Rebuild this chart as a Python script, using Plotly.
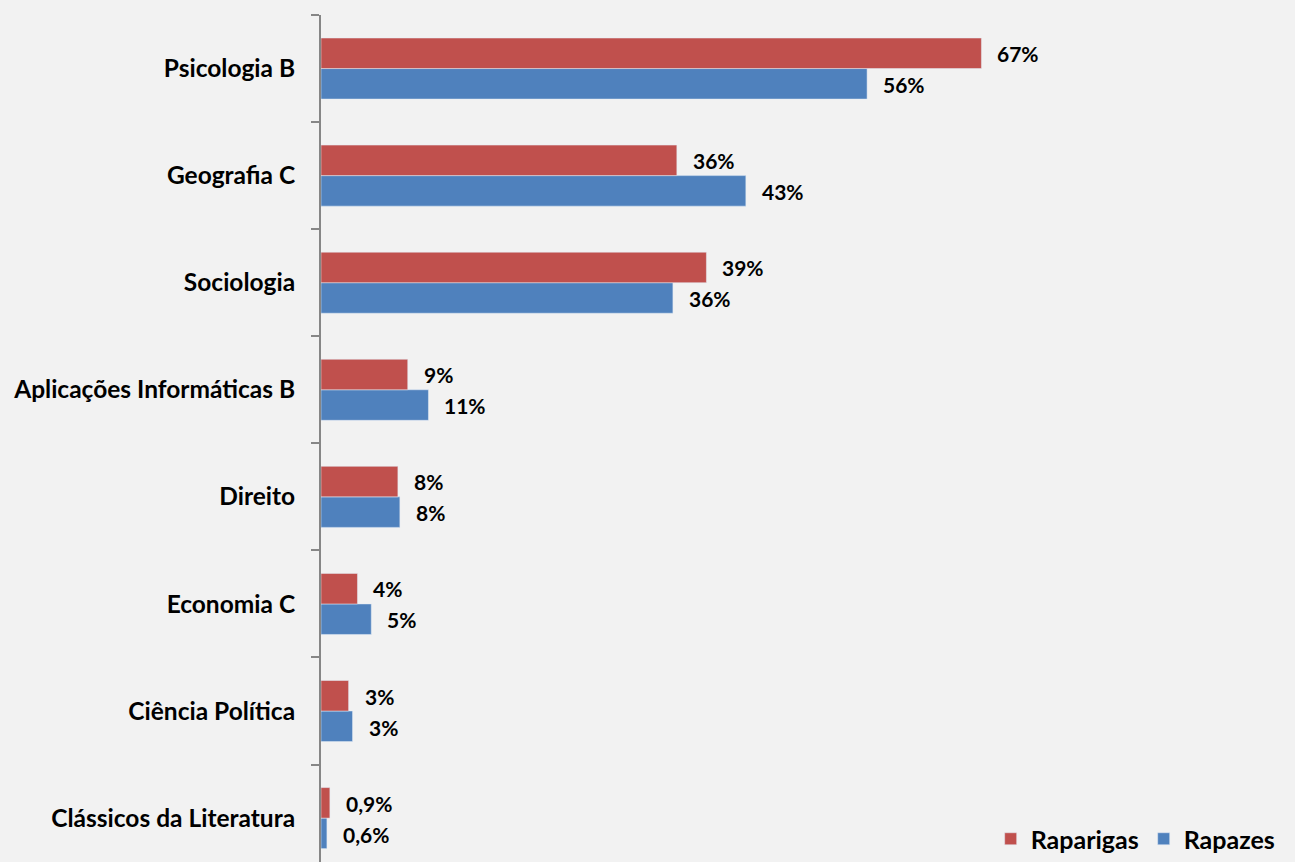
import plotly.graph_objects as go

# Categories listed bottom-to-top
categories = ["Clássicos da Literatura", "Ciência Política", "Economia C", "Direito",
              "Aplicações Informáticas B", "Sociologia", "Geografia C", "Psicologia B"]
raparigas = [0.9, 2.8, 3.7, 7.8, 8.8, 39.1, 36.1, 67.0]
rapazes = [0.6, 3.2, 5.1, 8.0, 10.9, 35.7, 43.1, 55.4]
raparigas_labels = ["0,9%", "3%", "4%", "8%", "9%", "39%", "36%", "67%"]
rapazes_labels = ["0,6%", "3%", "5%", "8%", "11%", "36%", "43%", "56%"]

RED = "#c0504d"
BLUE = "#4f81bd"
FONT = "Lato"

fig = go.Figure()
fig.add_trace(go.Bar(y=categories, x=rapazes, orientation="h", name="<b>Rapazes</b>",
                     marker=dict(color=BLUE), legendrank=2))
fig.add_trace(go.Bar(y=categories, x=raparigas, orientation="h", name="<b>Raparigas</b>",
                     marker=dict(color=RED), legendrank=1))

annotations = []
for cat, v, lab in zip(categories, raparigas, raparigas_labels):
    annotations.append(dict(x=v, y=cat, text=f"<b>{lab}</b>", showarrow=False,
                            xanchor="left", yanchor="middle", xshift=14, yshift=15,
                            font=dict(family=FONT, size=21, color="#000000")))
for cat, v, lab in zip(categories, rapazes, rapazes_labels):
    annotations.append(dict(x=v, y=cat, text=f"<b>{lab}</b>", showarrow=False,
                            xanchor="left", yanchor="middle", xshift=14, yshift=-16,
                            font=dict(family=FONT, size=21, color="#000000")))

fig.update_layout(
    width=1295, height=862,
    margin=dict(l=321, r=284, t=15, b=0, autoexpand=False),
    paper_bgcolor="#f2f2f2", plot_bgcolor="#f2f2f2",
    barmode="group", bargap=0.43, bargroupgap=0,
    showlegend=True,
    legend=dict(orientation="h", xref="container", yref="container",
                x=0.765, y=0.0, xanchor="left", yanchor="bottom",
                font=dict(family=FONT, size=25, color="#000000"),
                bgcolor="rgba(0,0,0,0)", traceorder="normal",
                itemwidth=30, tracegroupgap=0),
    annotations=annotations,
    font=dict(family=FONT, color="#000000"),
)
fig.update_xaxes(range=[0, 70], visible=False, showgrid=False, zeroline=False)
fig.update_yaxes(categoryorder="array", categoryarray=categories,
                 range=[-0.41, 7.5], showline=True, linecolor="#868686", linewidth=2,
                 ticks="outside", tickson="boundaries", ticklen=8, tickcolor="#868686",
                 tickwidth=2, showgrid=False, zeroline=False,
                 ticklabelstandoff=19,
                 tickfont=dict(family=FONT, size=24.5, color="#000000", weight="bold"))

fig.write_html("out.html", config={"displayModeBar": False},
               post_script="document.body.style.margin='0';document.body.style.overflow='hidden';")
